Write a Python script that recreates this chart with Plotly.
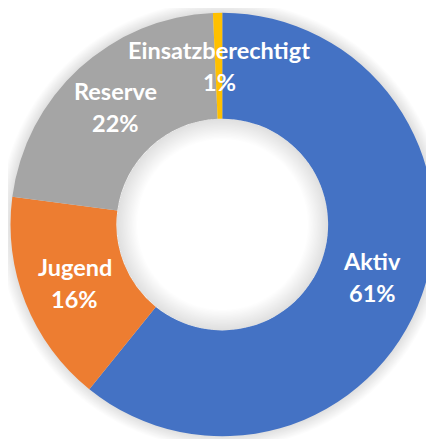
import math
import plotly.graph_objects as go

# ---- data ----
labels = ["Aktiv", "Jugend", "Reserve", "Einsatzberechtigt"]
values = [60.8, 16.3, 22.2, 0.7]
colors = ["#4472C4", "#ED7D31", "#A5A5A5", "#FFC000"]

# ---- geometry (pixels) ----
# the page body has an 8px default margin, so the figure starts at (8, 8)
OFF = 8
W, H = 434 - OFF, 439 - OFF
CX, CY = 222.5 - OFF, 224.5 - OFF   # centre inside the figure, from top-left
R_OUT = 212.0
HOLE = 0.5
R_IN = R_OUT * HOLE


def dom(r):
    return dict(x=[max(0, (CX - r) / W), min(1, (CX + r) / W)],
                y=[max(0, (H - CY - r) / H), min(1, (H - CY + r) / H)])


fig = go.Figure()

# white disc under the hole (covers the halo discs)
fig.add_trace(go.Pie(values=[1], marker=dict(colors=["white"], line=dict(width=0)),
                     domain=dom(R_IN), textinfo="none", hoverinfo="skip",
                     showlegend=False, sort=False))
# soft inner shadow inside the hole
for k in range(1, 17):
    fig.add_trace(go.Pie(values=[1], hole=(R_IN - k * 1.3) / R_IN,
                         marker=dict(colors=["rgba(0,0,0,0.009)"], line=dict(width=0)),
                         domain=dom(R_IN), textinfo="none", hoverinfo="skip",
                         showlegend=False, sort=False))

# main donut
fig.add_trace(go.Pie(
    labels=labels, values=values, hole=HOLE, sort=False, direction="clockwise",
    rotation=0, marker=dict(colors=colors, line=dict(width=0)),
    domain=dom(R_OUT), textinfo="none", hoverinfo="label+percent",
    showlegend=False,
))

# outer halo (shadow) as discs below the pies
shapes = []
for k in range(1, 11):
    r = R_OUT + k * 1.2
    shapes.append(dict(type="circle", xref="paper", yref="paper", layer="below",
                       x0=(CX - r) / W, x1=(CX + r) / W,
                       y0=(H - CY - r) / H, y1=(H - CY + r) / H,
                       fillcolor="rgba(0,0,0,0.012)", line=dict(width=0)))

# labels at mid-angle / mid-radius like Excel
total = sum(values)
annotations = []
cum = 0.0
r_mid = (R_OUT + R_IN) / 2
font = dict(family="Lato, Carlito, Calibri, sans-serif", size=23.5, color="white", weight="bold")
for lab, v in zip(labels, values):
    mid = (cum + v / 2) / total * 2 * math.pi
    cum += v
    px = CX + r_mid * math.sin(mid)
    py = CY - r_mid * math.cos(mid)
    pct = f"{max(1, round(v / total * 100))}%"
    for txt, shift in ((lab, 16), (pct, -16)):
        annotations.append(dict(x=px / W, y=1 - py / H, xref="paper", yref="paper",
                                text=txt, showarrow=False, font=font, yshift=shift,
                                xanchor="center", yanchor="middle"))

fig.update_layout(width=W, height=H, margin=dict(l=0, r=0, t=0, b=0),
                  paper_bgcolor="white", plot_bgcolor="white",
                  shapes=shapes, annotations=annotations, showlegend=False)

fig.write_html("out.html")
